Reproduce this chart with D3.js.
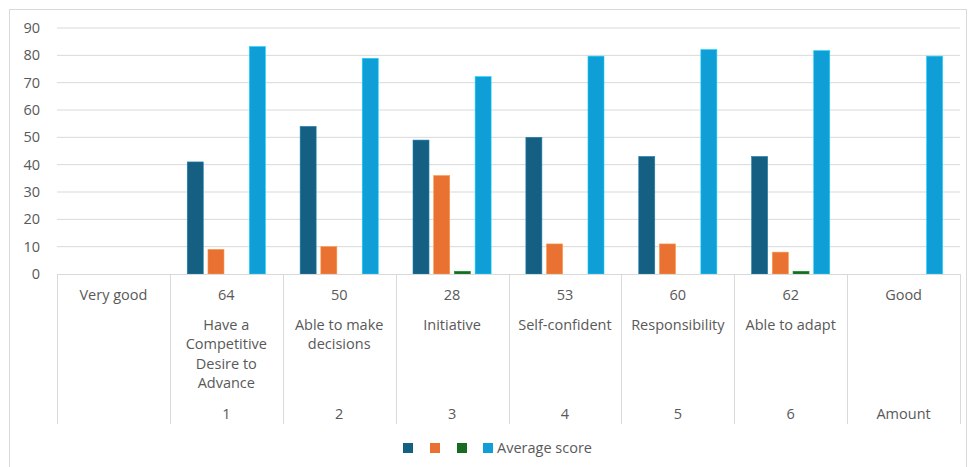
<!DOCTYPE html>
<html>
<head>
<meta charset="utf-8">
<script src="https://cdn.jsdelivr.net/npm/d3@7"></script>
<style>
  body { margin: 0; background: #fff; }
  text { font-family: "Open Sans", sans-serif; fill: #595959; font-size: 14.5px; }
</style>
</head>
<body>
<svg id="chart" width="970" height="467"></svg>
<script>
///////////////////////////////////////////////////////////////////
//DATA/////////////////////////////////////////////////////////////
var topLabels = ["Very good", "64", "50", "28", "53", "60", "62", "Good"];
var midLabels = ["", "Have a Competitive Desire to Advance", "Able to make decisions", "Initiative",
                 "Self-confident", "Responsibility", "Able to adapt", ""];
var bottomLabels = ["", "1", "2", "3", "4", "5", "6", "Amount"];

var seriesNames = ["", "", "", "Average score"];
var seriesColors = ["#156082", "#E97132", "#196B24", "#0F9ED5"];

var darkValues   = [null, 41, 54, 49, 50, 43, 43, null];
var orangeValues = [null, 9, 10, 36, 11, 11, 8, null];
var greenValues  = [null, 0, 0, 1, 0, 0, 1, null];
var avgValues    = [null, 83.2, 78.9, 72.2, 79.7, 82.1, 81.7, 79.7];

var yTicks = [0, 10, 20, 30, 40, 50, 60, 70, 80, 90];

///////////////////////////////////////////////////////////////////
//SETUP////////////////////////////////////////////////////////////
var svg = d3.select("#chart");
var plotLeft = 57, plotRight = 960, plotTop = 28, plotBottom = 274;
var axisBottom = 424;

// CHART BORDER
svg.append("rect")
  .attr("x", 9.5).attr("y", 9.5)
  .attr("width", 957).attr("height", 470)
  .attr("fill", "none").attr("stroke", "#d9d9d9");

var categories = d3.range(topLabels.length);
var allSeries = [darkValues, orangeValues, greenValues, avgValues];

var x0 = d3.scaleBand().domain(categories).range([plotLeft, plotRight]).padding(0);
var x1 = d3.scaleBand().domain(d3.range(allSeries.length))
  .range([0, x0.bandwidth()]).paddingInner(0.227).paddingOuter(0.84);
var yScale = d3.scaleLinear().domain([0, 90]).range([plotBottom, plotTop]);

// GRIDLINES + Y LABELS
svg.append("g").attr("class", "grid")
  .selectAll("line").data(yTicks.slice(1))
  .enter().append("line")
  .attr("x1", plotLeft).attr("x2", plotRight)
  .attr("y1", function(d){ return yScale(d); })
  .attr("y2", function(d){ return yScale(d); })
  .attr("stroke", "#d9d9d9").attr("stroke-width", 1);

svg.append("g").attr("class", "ylabels")
  .selectAll("text").data(yTicks)
  .enter().append("text")
  .attr("x", 40)
  .attr("y", function(d){ return yScale(d); })
  .attr("dy", "0.35em")
  .attr("text-anchor", "end")
  .text(function(d){ return d; });

// BARS
allSeries.forEach(function(values, s){
  var pts = values.map(function(v, i){ return {v: v, i: i}; })
    .filter(function(d){ return d.v !== null && d.v > 0; });
  svg.append("g").attr("class", "series--" + s)
    .selectAll("rect").data(pts)
    .enter().append("rect")
    .attr("x", function(d){ return x0(d.i) + x1(s); })
    .attr("width", x1.bandwidth())
    .attr("y", function(d){ return yScale(d.v); })
    .attr("height", function(d){ return yScale(0) - yScale(d.v); })
    .attr("fill", seriesColors[s])
    .attr("stroke", d3.color(seriesColors[s]).brighter(0.8))
    .attr("stroke-width", 0.6);
});

// CATEGORY AXIS (MULTI-LEVEL)
svg.append("line")
  .attr("x1", plotLeft).attr("x2", plotRight)
  .attr("y1", plotBottom + 0.5).attr("y2", plotBottom + 0.5)
  .attr("stroke", "#d9d9d9");

var edges = categories.map(function(i){ return x0(i); }).concat([plotRight]);
svg.append("g").attr("class", "dividers")
  .selectAll("line").data(edges)
  .enter().append("line")
  .attr("x1", function(d){ return Math.round(d) + 0.5; })
  .attr("x2", function(d){ return Math.round(d) + 0.5; })
  .attr("y1", plotBottom).attr("y2", axisBottom)
  .attr("stroke", "#d9d9d9");

function centerX(i){ return x0(i) + x0.bandwidth() / 2; }

svg.append("g").selectAll("text").data(topLabels)
  .enter().append("text")
  .attr("x", function(d, i){ return centerX(i); })
  .attr("y", 295).attr("dy", "0.35em")
  .attr("text-anchor", "middle")
  .text(function(d){ return d; });

svg.append("g").selectAll("text").data(bottomLabels)
  .enter().append("text")
  .attr("x", function(d, i){ return centerX(i); })
  .attr("y", 414).attr("dy", "0.35em")
  .attr("text-anchor", "middle")
  .text(function(d){ return d; });

// WRAPPED MIDDLE LABELS
var maxWidth = x0.bandwidth() - 4;
svg.append("g").selectAll("text").data(midLabels)
  .enter().append("text")
  .attr("text-anchor", "middle")
  .each(function(d, i){
    var node = d3.select(this);
    var words = d.split(" ").filter(function(w){ return w.length; });
    var lines = [], line = [];
    var probe = node.append("tspan");
    words.forEach(function(w){
      probe.text(line.concat([w]).join(" "));
      if (probe.node().getComputedTextLength() > maxWidth && line.length){
        lines.push(line.join(" "));
        line = [w];
      } else {
        line.push(w);
      }
    });
    if (line.length) lines.push(line.join(" "));
    probe.remove();
    lines.forEach(function(l, k){
      node.append("tspan")
        .attr("x", centerX(i))
        .attr("y", 325 + k * 19.3)
        .attr("dy", "0.35em")
        .text(l);
    });
  });

// LEGEND
var legendX = [403, 430, 457, 483];
var legend = svg.append("g").attr("class", "legend");
seriesNames.forEach(function(name, s){
  legend.append("rect")
    .attr("x", legendX[s]).attr("y", 443)
    .attr("width", 10).attr("height", 10)
    .attr("fill", seriesColors[s]);
  if (name.length){
    legend.append("text")
      .attr("x", legendX[s] + 14).attr("y", 448).attr("dy", "0.35em")
      .text(name);
  }
});
</script>
</body>
</html>
